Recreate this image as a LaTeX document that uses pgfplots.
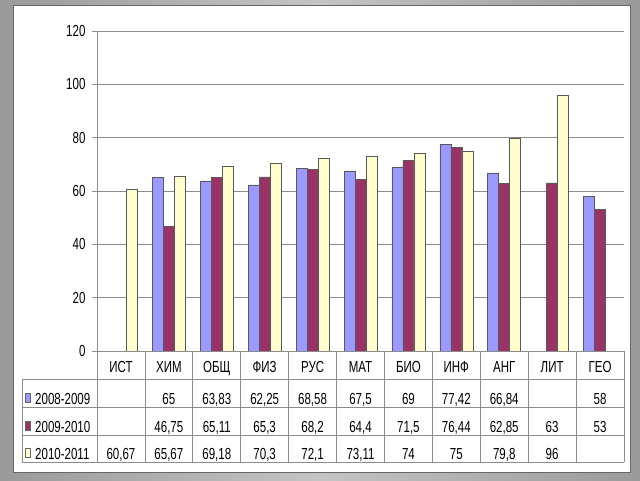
\documentclass[border=0pt]{standalone}
\usepackage{pgfplots}
\pgfplotsset{compat=1.18}
\usepackage{fontspec}
\setmainfont{Liberation Sans}[FakeStretch=0.72]

\definecolor{s1}{HTML}{9999FF}
\definecolor{s2}{HTML}{993366}
\definecolor{s3}{HTML}{FFFFCC}
\definecolor{framegray}{HTML}{ABABAB}
\definecolor{rule}{HTML}{8C8C8C}

\begin{document}
\fontsize{16}{19}\selectfont
\begin{tikzpicture}
\useasboundingbox (0,0) rectangle (640pt,480pt);
\shade[left color=framegray!90!black, right color=framegray!90!black, middle color=framegray!70!white] (0,0) rectangle (640pt,480pt);
\fill[white] (13pt,8pt) rectangle (630pt,475pt);
\draw[gray!80!black, line width=0.6pt] (13pt,8pt) rectangle (630pt,475pt);

\begin{axis}[at={(97pt,129pt)}, anchor=south west,
    scale only axis, width=527pt, height=320pt,
    ybar=0pt, bar width=11pt,
    xmin=-0.5, xmax=10.5, ymin=0, ymax=120,
    enlargelimits=false,
    ytick={0,20,...,120}, xtick=\empty,
    axis x line=none, axis y line*=left, ytick pos=left,
    ymajorgrids, grid style={rule, line width=0.8pt},
    y axis line style={rule, line width=0.8pt},
    ytick style={rule, line width=0.8pt},
    tick align=outside, major tick length=5pt,
    yticklabel style={/pgf/number format/assume math mode=true,
        font=\fontsize{16}{19}\selectfont, xshift=-1pt},
    clip=false,
]
% 2008-2009
\addplot[fill=s1, draw=black!65, line width=0.5pt] coordinates {
    (1,65) (2,63.83) (3,62.25) (4,68.58) (5,67.5) (6,69) (7,77.42) (8,66.84) (10,58)};
% 2009-2010
\addplot[fill=s2, draw=black!65, line width=0.5pt] coordinates {
    (1,46.75) (2,65.11) (3,65.3) (4,68.2) (5,64.4) (6,71.5) (7,76.44) (8,62.85) (9,63) (10,53)};
% 2010-2011
\addplot[fill=s3, draw=black!65, line width=0.5pt] coordinates {
    (0,60.67) (1,65.67) (2,69.18) (3,70.3) (4,72.1) (5,73.11) (6,74) (7,75) (8,79.8) (9,96)};
\end{axis}

% data table under the chart, coordinates in px from top left
\begin{scope}[shift={(0pt,480pt)}, x=1pt, y=-1pt]
  \begin{scope}[rule, line width=0.8pt]
    \foreach \i in {0,...,11}
      \draw ({97+47.909*\i},351) -- ({97+47.909*\i},462);
    \draw (97,351) -- (624,351);
    \foreach \yy in {379,407,435,462}
      \draw (22,\yy) -- (624,\yy);
    \draw (22,379) -- (22,462);
  \end{scope}

  \foreach \nm [count=\i from 0] in {ИСТ,ХИМ,ОБЩ,ФИЗ,РУС,МАТ,БИО,ИНФ,АНГ,ЛИТ,ГЕО}
    \node[anchor=base, inner sep=0pt] at ({97+47.909*(\i+0.5)},372) {\nm};

  \foreach \v [count=\i from 0] in {{},{65},{63,83},{62,25},{68,58},{67,5},{69},{77,42},{66,84},{},{58}}
    \node[anchor=base, inner sep=0pt] at ({97+47.909*(\i+0.5)},404) {\v};
  \foreach \v [count=\i from 0] in {{},{46,75},{65,11},{65,3},{68,2},{64,4},{71,5},{76,44},{62,85},{63},{53}}
    \node[anchor=base, inner sep=0pt] at ({97+47.909*(\i+0.5)},432) {\v};
  \foreach \v [count=\i from 0] in {{60,67},{65,67},{69,18},{70,3},{72,1},{73,11},{74},{75},{79,8},{96},{}}
    \node[anchor=base, inner sep=0pt] at ({97+47.909*(\i+0.5)},459) {\v};

  \filldraw[fill=s1, draw=black!60, line width=0.5pt] (25.5,393) rectangle (30.5,402);
  \filldraw[fill=s2, draw=black!60, line width=0.5pt] (25.5,421) rectangle (30.5,430);
  \filldraw[fill=s3, draw=black!60, line width=0.5pt] (25.5,448) rectangle (30.5,457);
  \node[anchor=base west, inner sep=0pt] at (35,404) {2008-2009};
  \node[anchor=base west, inner sep=0pt] at (35,432) {2009-2010};
  \node[anchor=base west, inner sep=0pt] at (35,459) {2010-2011};
\end{scope}
\end{tikzpicture}
\end{document}
